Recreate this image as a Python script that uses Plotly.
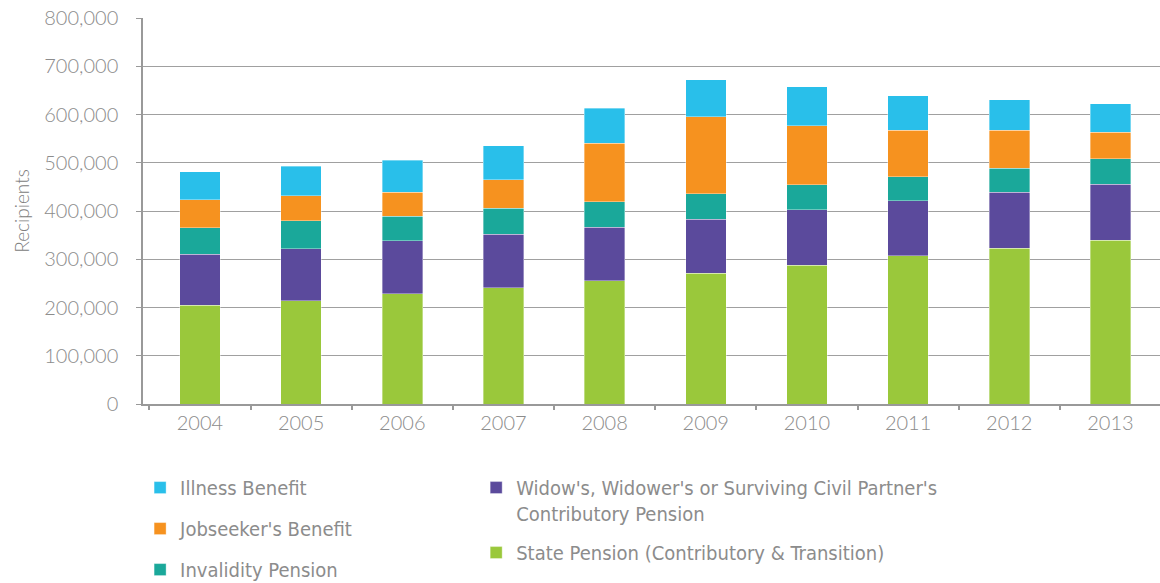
import plotly.graph_objects as go

years = ["2004", "2005", "2006", "2007", "2008", "2009", "2010", "2011", "2012", "2013"]
state_pension = [205000, 214000, 228000, 241000, 255000, 271000, 288000, 307000, 323000, 339000]
widow_pension = [105000, 108000, 110000, 111000, 111000, 112000, 115000, 114000, 116000, 116000]
invalidity = [55000, 58000, 51000, 54000, 53000, 53000, 51000, 50000, 50000, 53000]
jobseeker = [58000, 52000, 50000, 59000, 121000, 159000, 123000, 96000, 78000, 55000]
illness = [58000, 61000, 66000, 70000, 73000, 77000, 81000, 72000, 64000, 59000]

y_ticks = [0, 100000, 200000, 300000, 400000, 500000, 600000, 700000, 800000]
y_tick_labels = ["0", "100,000", "200,000", "300,000", "400,000", "500,000", "600,000", "700,000", "800,000"]

# (name, values, colour, legend, rank within legend)
series = [
    ("State Pension (Contributory & Transition)", state_pension, "#9AC83B", "legend2", 2),
    ("Widow's, Widower's or Surviving Civil Partner's<br>Contributory Pension", widow_pension, "#5B4A9C", "legend2", 1),
    ("Invalidity Pension", invalidity, "#1AA89A", "legend", 3),
    ("Jobseeker's Benefit", jobseeker, "#F6921F", "legend", 2),
    ("Illness Benefit", illness, "#29BFEA", "legend", 1),
]

fig = go.Figure()
for i, (name, vals, color, leg, rank) in enumerate(series):
    fig.add_trace(go.Bar(
        x=years, y=vals, name=name, legend=leg, legendgroup=f"g{i}", legendrank=rank,
        marker=dict(color=color, line=dict(color="rgba(255,255,255,0.6)", width=0.6)),
    ))

tick_font = dict(family="Lato, 'Open Sans', sans-serif", size=20, color="#8c8c8c", weight=300)
leg_font = dict(family="'Liberation Sans Narrow', 'DejaVu Sans Condensed', 'Roboto', sans-serif", size=20, color="#8c8c8c")

fig.update_layout(
    barmode="stack",
    bargap=0.6,
    width=1160, height=583,
    margin=dict(l=143, r=0, t=18, b=179, autoexpand=False),
    plot_bgcolor="white", paper_bgcolor="white",
    xaxis=dict(
        type="category", range=[-0.563, 9.49],
        tickson="boundaries", ticks="outside", ticklen=4,
        tickcolor="#999999", tickwidth=1.5,
        showline=True, linecolor="#999999", linewidth=2,
        showgrid=False, tickfont=tick_font,
    ),
    yaxis=dict(
        range=[0, 800000], tickvals=y_ticks, ticktext=y_tick_labels,
        ticks="outside", ticklen=5, tickcolor="#999999", tickwidth=1,
        showline=True, linecolor="#999999", linewidth=1.5,
        showgrid=True, gridcolor="#a0a0a0", gridwidth=1,
        zeroline=False, tickfont=tick_font, ticklabelstandoff=14,
        ticklabeloverflow="allow",
        title=dict(text="Recipients", font=dict(family="Lato, 'Open Sans', sans-serif", size=19, color="#808080", weight=300), standoff=10),
    ),
    legend=dict(
        x=-0.00285, xanchor="left", y=-0.166, yanchor="top",
        orientation="v", traceorder="grouped", tracegroupgap=12,
        font=leg_font, bgcolor="rgba(0,0,0,0)",
    ),
    legend2=dict(
        x=0.3276, xanchor="left", y=-0.166, yanchor="top",
        orientation="v", traceorder="grouped", tracegroupgap=10,
        font=leg_font, bgcolor="rgba(0,0,0,0)", valign="top",
    ),
)

fig.write_html("out.html", config={"displayModeBar": False},
               post_script="document.body.style.margin='0';")
